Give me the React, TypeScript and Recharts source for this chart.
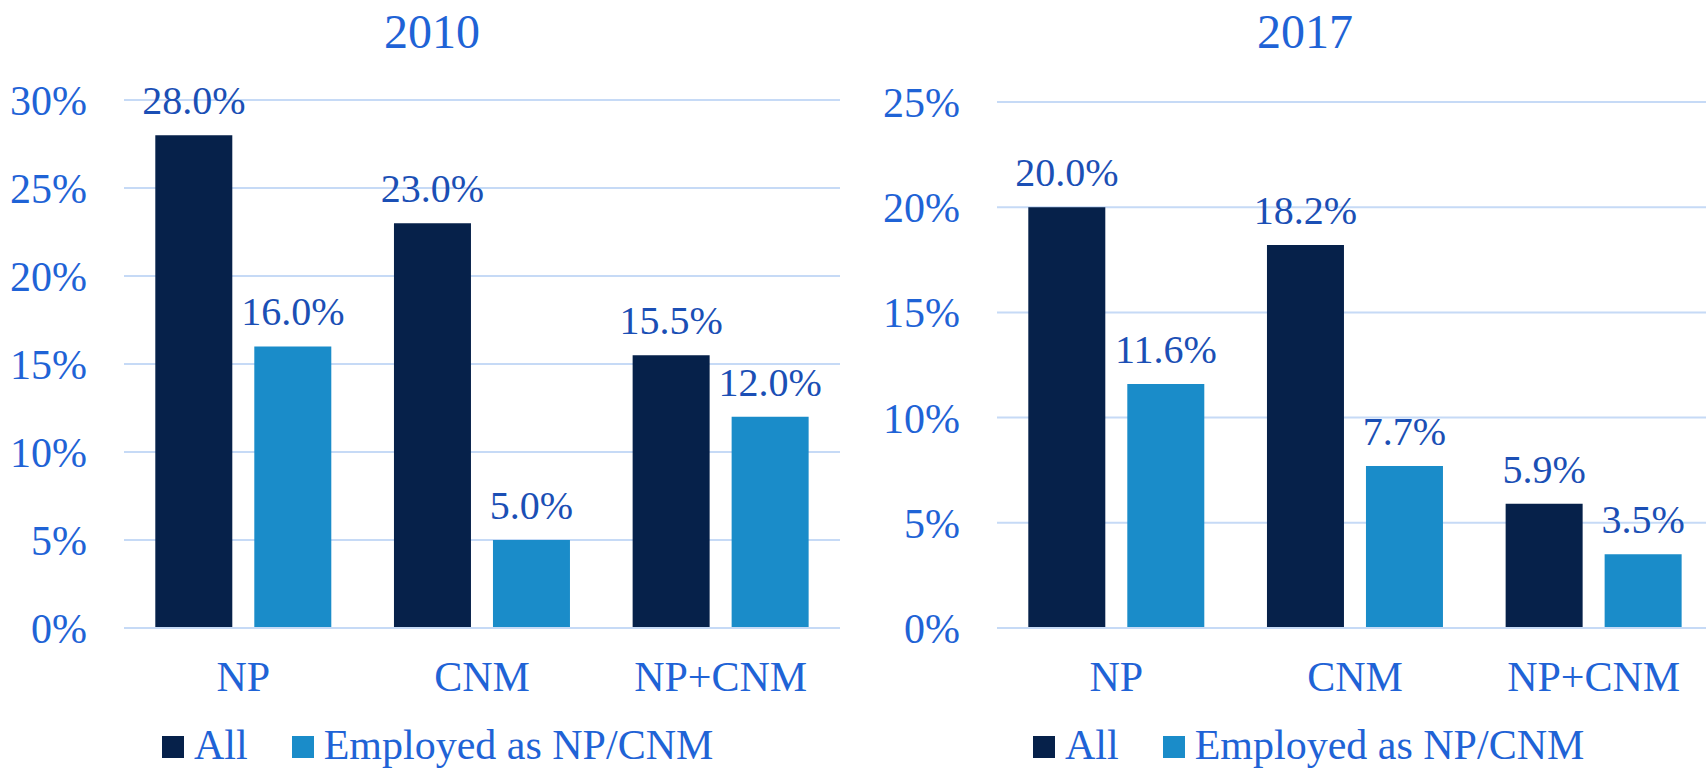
import React from "react";
import { BarChart, Bar, XAxis, YAxis, CartesianGrid, LabelList, Legend } from "recharts";

const categories = ["NP", "CNM", "NP+CNM"];
const all2010 = [28.0, 23.0, 15.5];
const employed2010 = [16.0, 5.0, 12.0];
const all2017 = [20.0, 18.2, 5.9];
const employed2017 = [11.6, 7.7, 3.5];
const ticks2010 = [0, 5, 10, 15, 20, 25, 30];
const ticks2017 = [0, 5, 10, 15, 20, 25];
const seriesNames = ["All", "Employed as NP/CNM"];

const NAVY = "#06214a";
const LIGHT = "#1a8cc9";
const TICK = "#1f63d6";
const LABEL = "#1b4fb5";
const GRID = "#c6daf6";
const FONT = "'Liberation Serif', 'Times New Roman', serif";

const build = (a: number[], e: number[]) =>
  categories.map((c, i) => ({ cat: c, all: a[i], emp: e[i] }));

const data2010 = build(all2010, employed2010);
const data2017 = build(all2017, employed2017);

const LegendContent = () => (
  <div style={{ display: "flex", alignItems: "flex-end", fontFamily: FONT, fontSize: 42, color: TICK, whiteSpace: "nowrap", lineHeight: "42px" }}>
    <span style={{ display: "inline-block", width: 22, height: 22, background: NAVY, marginRight: 10, marginBottom: 8 }} />
    <span style={{ marginRight: 44 }}>{seriesNames[0]}</span>
    <span style={{ display: "inline-block", width: 22, height: 22, background: LIGHT, marginRight: 10, marginBottom: 8 }} />
    <span>{seriesNames[1]}</span>
  </div>
);

type PanelProps = {
  data: any[];
  ticks: number[];
  max: number;
  left: number;
  width: number;
  yWidth: number;
  top: number;
  right: number;
  legendLeft: number;
  title: string;
  titleCenter: number;
};

const Panel = (p: PanelProps) => (
  <>
    <div
      style={{
        position: "absolute",
        top: 4,
        left: p.titleCenter - 150,
        width: 300,
        textAlign: "center",
        fontFamily: FONT,
        fontSize: 48,
        color: TICK,
        lineHeight: "56px",
      }}
    >
      {p.title}
    </div>
    <div style={{ position: "absolute", left: p.left, top: 0 }}>
      <BarChart
        width={p.width}
        height={771}
        data={p.data}
        margin={{ top: p.top, right: p.right, left: 0, bottom: 83 }}
        barCategoryGap={31.3}
        barGap={22}
      >
        <CartesianGrid vertical={false} stroke={GRID} strokeWidth={2} />
        <XAxis
          dataKey="cat"
          height={60}
          axisLine={{ stroke: GRID, strokeWidth: 2 }}
          tickLine={false}
          tickSize={0}
          tickMargin={33}
          tick={{ fill: TICK, fontSize: 42, fontFamily: FONT }}
          interval={0}
        />
        <YAxis
          width={p.yWidth}
          domain={[0, p.max]}
          ticks={p.ticks}
          axisLine={false}
          tickLine={false}
          tickSize={0}
          tickMargin={37}
          tickFormatter={(v: number) => `${v}%`}
          tick={{ fill: TICK, fontSize: 42, fontFamily: FONT }}
          interval={0}
        />
        <Legend
          layout="horizontal"
          verticalAlign="middle"
          align="center"
          content={() => <LegendContent />}
          wrapperStyle={{ left: p.legendLeft, top: 724, width: "auto", height: "auto" }}
        />
        <Bar dataKey="all" name={seriesNames[0]} fill={NAVY} isAnimationActive={false}>
          <LabelList
            dataKey="all"
            position="top"
            offset={21}
            formatter={(v: number) => `${v.toFixed(1)}%`}
            style={{ fill: LABEL, fontSize: 40, fontFamily: FONT }}
          />
        </Bar>
        <Bar dataKey="emp" name={seriesNames[1]} fill={LIGHT} isAnimationActive={false}>
          <LabelList
            dataKey="emp"
            position="top"
            offset={21}
            formatter={(v: number) => `${v.toFixed(1)}%`}
            style={{ fill: LABEL, fontSize: 40, fontFamily: FONT }}
          />
        </Bar>
      </BarChart>
    </div>
  </>
);

export default function App() {
  return (
    <div
      style={{
        position: "fixed",
        left: 0,
        top: 0,
        width: 1706,
        height: 771,
        overflow: "hidden",
        background: "#ffffff",
      }}
    >
      <Panel
        data={data2010}
        ticks={ticks2010}
        max={30}
        left={0}
        width={860}
        yWidth={124}
        top={100}
        right={20}
        legendLeft={162}
        title="2010"
        titleCenter={432}
      />
      <Panel
        data={data2017}
        ticks={ticks2017}
        max={25}
        left={860}
        width={860}
        yWidth={137}
        top={102}
        right={7}
        legendLeft={1033 - 860}
        title="2017"
        titleCenter={1305}
      />
    </div>
  );
}
